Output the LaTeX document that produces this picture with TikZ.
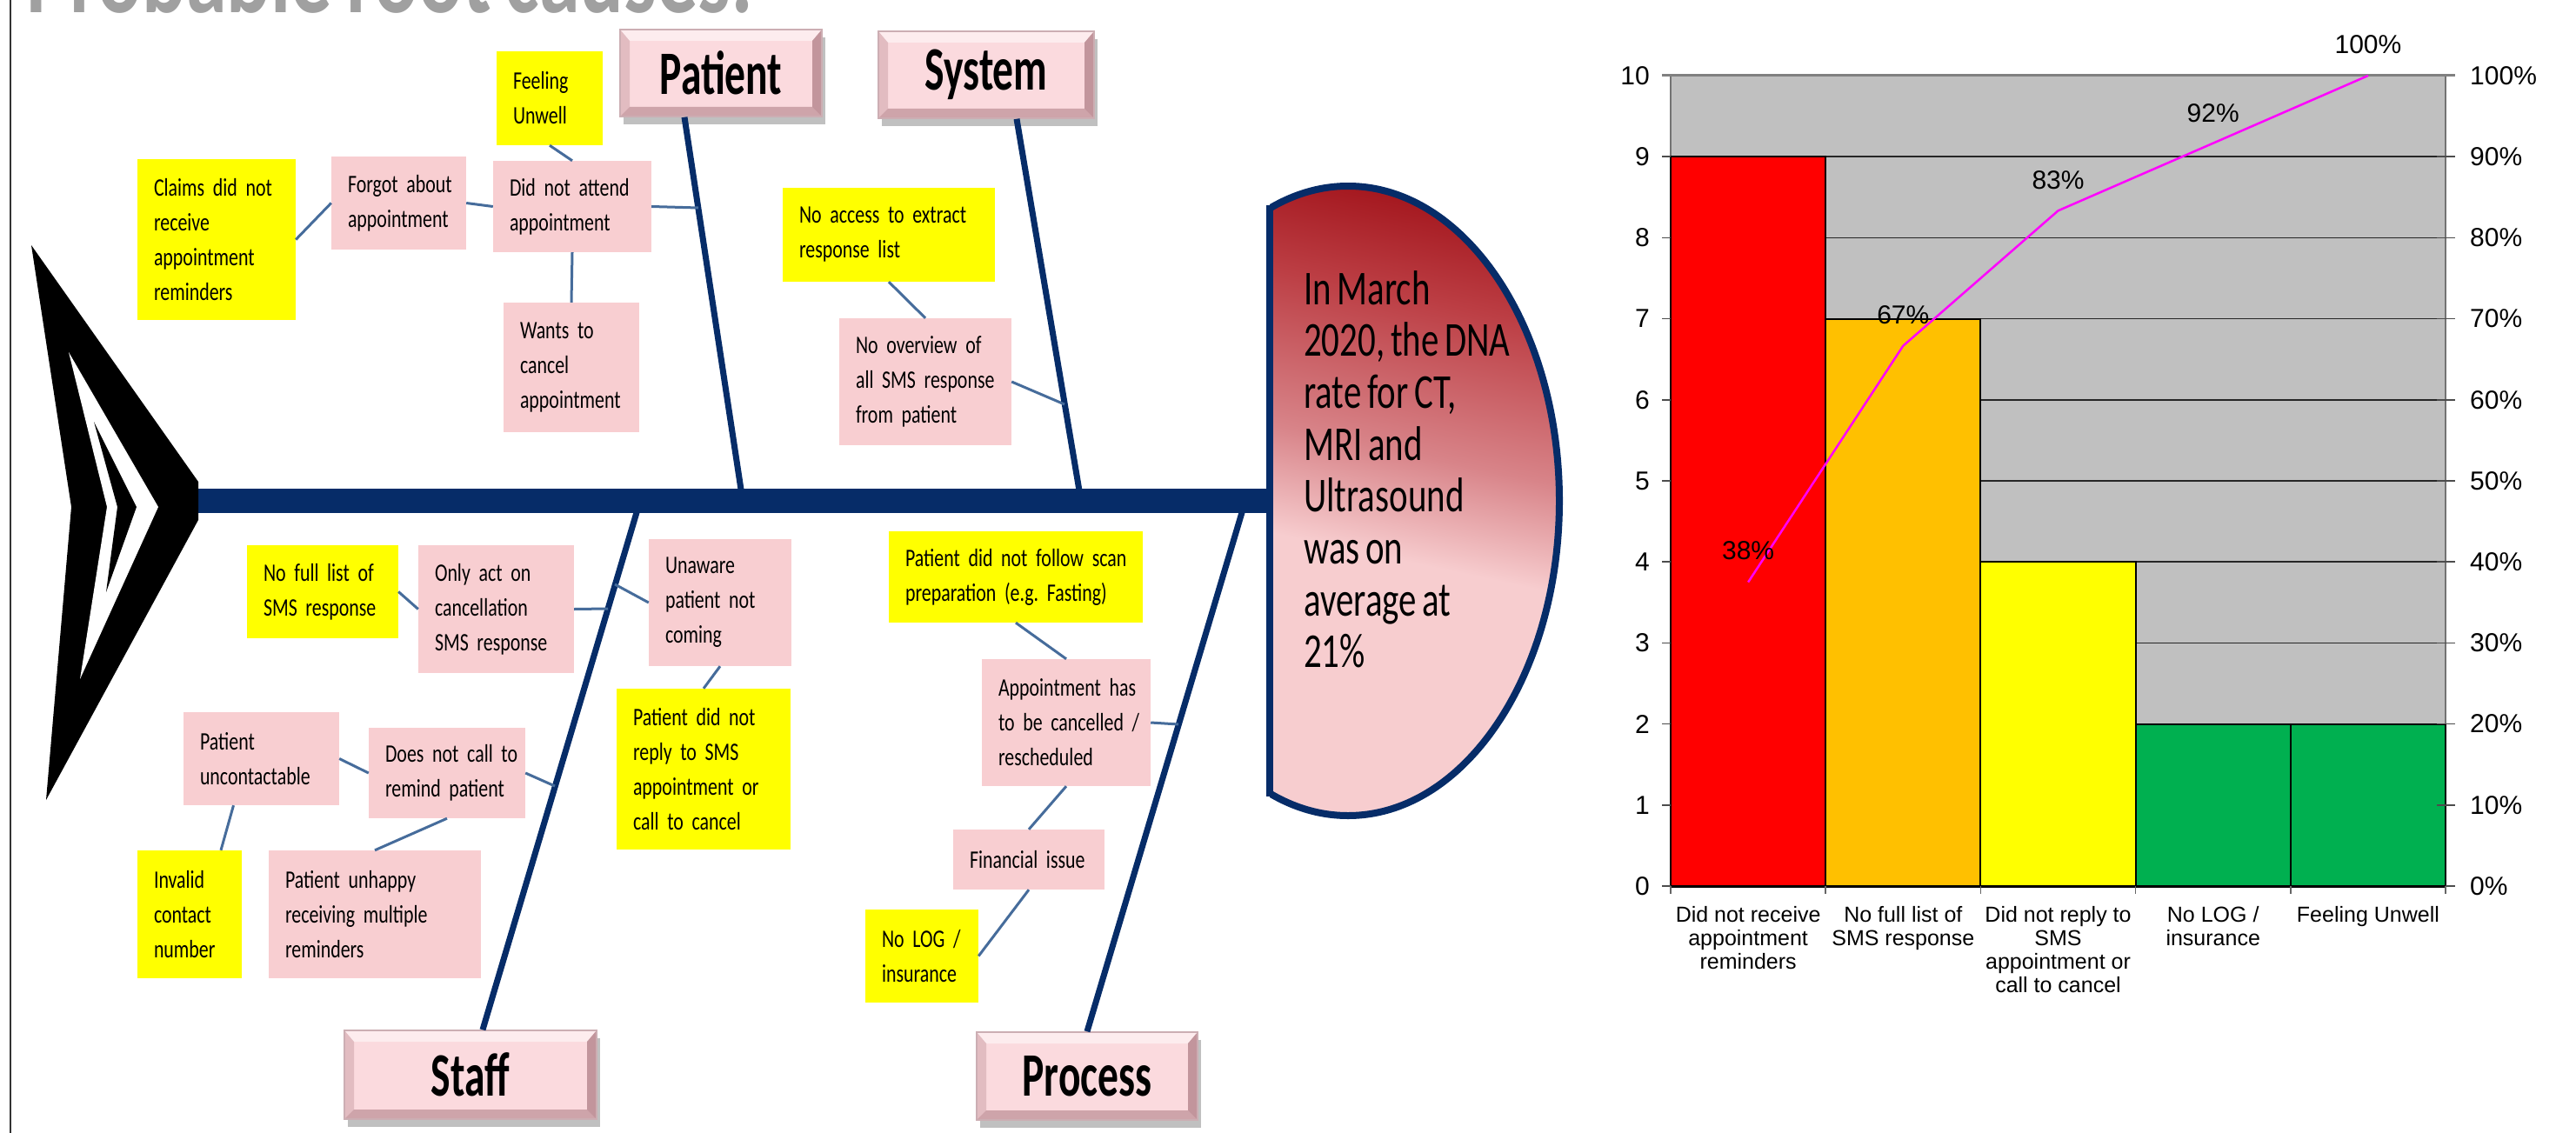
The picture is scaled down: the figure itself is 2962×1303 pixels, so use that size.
\documentclass[tikz,border=0pt]{standalone}
\usepackage{fontspec}
\setmainfont{Carlito}
\newfontfamily\fishfont[FakeStretch=0.755,WordSpace=0.755]{Carlito}
\newfontfamily\catfont[FakeStretch=0.67,WordSpace=0.67]{Carlito}
\newfontfamily\headfont[FakeStretch=0.73,WordSpace=0.73]{Carlito}
\newfontfamily\chartfont{Liberation Sans}
\usetikzlibrary{shadows}
\hyphenpenalty=10000
\exhyphenpenalty=10000
\definecolor{navy}{RGB}{6,44,104}
\definecolor{connblue}{RGB}{70,108,155}
\definecolor{boxpink}{RGB}{248,206,209}
\definecolor{boxyellow}{RGB}{255,255,0}
\definecolor{catpink}{RGB}{251,218,222}
\definecolor{catdark}{RGB}{170,120,128}
\definecolor{headred}{RGB}{165,25,32}
\definecolor{headdeep}{RGB}{188,62,68}
\definecolor{headmid}{RGB}{216,132,137}
\definecolor{headpink}{RGB}{247,205,207}
\definecolor{plotgray}{RGB}{192,192,192}
\definecolor{barred}{RGB}{255,0,0}
\definecolor{barorange}{RGB}{255,192,0}
\definecolor{baryellow}{RGB}{255,255,0}
\definecolor{bargreen}{RGB}{0,176,80}
\definecolor{paretomag}{RGB}{255,0,255}
\definecolor{titlegray}{RGB}{160,160,160}
\pgfdeclareverticalshading{headshade}{100bp}{color(0bp)=(headpink); color(25bp)=(headpink); color(46bp)=(headpink); color(55bp)=(headmid); color(68bp)=(headdeep); color(76bp)=(headred); color(100bp)=(headred)}
\begin{document}
\begin{tikzpicture}[x=1pt,y=-1pt,
  fishtext/.style={font=\fishfont\fontsize{29}{40}\selectfont, align=left, inner sep=0pt, text=black},
  bsize/.style n args={3}{minimum width=#1pt, minimum height=#2pt, text width=#3pt},
  ybox/.style={fishtext, rectangle, fill=boxyellow},
  pbox/.style={fishtext, rectangle, fill=boxpink},
  conn/.style={draw=connblue, line width=3pt},
  bone/.style={draw=navy, line width=7pt},
  catbox/.style={rectangle, fill=catpink, draw=catdark!60, line width=1.5pt, inner sep=0pt,
    font=\catfont\bfseries\fontsize{71}{71}\selectfont,
    drop shadow={shadow xshift=4pt, shadow yshift=-9pt, fill=black!70, opacity=0.35},
    path picture={
      \fill[white, opacity=0.5] (path picture bounding box.north west) -- (path picture bounding box.north east) -- ([xshift=-11pt,yshift=-13pt]path picture bounding box.north east) -- ([xshift=11pt,yshift=-13pt]path picture bounding box.north west) -- cycle;
      \fill[catdark, opacity=0.55] (path picture bounding box.south west) -- (path picture bounding box.south east) -- ([xshift=-11pt,yshift=11pt]path picture bounding box.south east) -- ([xshift=11pt,yshift=11pt]path picture bounding box.south west) -- cycle;
      \fill[catdark, opacity=0.3] (path picture bounding box.north west) -- ([xshift=11pt,yshift=-13pt]path picture bounding box.north west) -- ([xshift=11pt,yshift=11pt]path picture bounding box.south west) -- (path picture bounding box.south west) -- cycle;
      \fill[catdark, opacity=0.7] (path picture bounding box.north east) -- ([xshift=-11pt,yshift=-13pt]path picture bounding box.north east) -- ([xshift=-11pt,yshift=11pt]path picture bounding box.south east) -- (path picture bounding box.south east) -- cycle;
    }},
  axlab/.style={font=\chartfont\fontsize{30}{34}\selectfont, inner sep=0pt},
  catlab/.style={font=\chartfont\fontsize{25}{27}\selectfont, align=center, inner sep=0pt, anchor=north},
  bar/.style={draw=black, line width=2pt},
  gridln/.style={draw=black!85, line width=1.5pt}
]
\useasboundingbox (0,0) rectangle (2962,1303);
\clip (0,0) rectangle (2962,1303);
\fill[white] (0,0) rectangle (2962,1303);

% title (cut off at the top)
\node[anchor=base west, inner sep=0pt, text=titlegray, font=\fishfont\bfseries\fontsize{125}{125}\selectfont] (title) at (30,15) {Probable root causes:};

% left border
\draw[black!80, line width=2.5pt] (12,0) -- (12,1303);

% spine
\coordinate (tail) at (226,576);
\coordinate (headw) at (1460,576);
\draw[navy, line width=28pt] (tail) -- (headw);

% category boxes
\node[catbox, minimum width=232pt, minimum height=100pt] (patient) at (829,84) {Patient};
\node[catbox, minimum width=248pt, minimum height=100pt] (system) at (1134,86) {System};
\node[catbox, minimum width=290pt, minimum height=102pt] (staff) at (541,1236) {Staff};
\node[catbox, minimum width=254pt, minimum height=101pt] (process) at (1250,1237.5) {Process};

% bones
\coordinate (pj) at (854,576);
\coordinate (sj) at (1243,576);
\coordinate (stj) at (736,576);
\coordinate (prj) at (1432,576);
\draw[bone] ([xshift=-42pt]patient.south) -- (pj);
\draw[bone] ([xshift=35pt]system.south) -- (sj);
\draw[bone] (stj) -- ([xshift=14pt]staff.north);
\draw[bone] (prj) -- (process.north);

% head
\begin{scope}
\clip (1460,150) rectangle (1850,1000);
\shade[shading=headshade, shading angle=-12] (1550,576) ellipse [x radius=243, y radius=362];
\draw[navy, line width=8pt] (1550,576) ellipse [x radius=243, y radius=362];
\end{scope}
\draw[navy, line width=8pt] (1460,236) -- (1460,916);
\node[anchor=north west, align=left, inner sep=0pt, font=\headfont\fontsize{56}{59.7}\selectfont] (headtext) at (1499,311) {In~March\\2020,~the~DNA\\rate~for~CT,\\MRI~and\\Ultrasound\\was~on\\average~at\\21\%};

% tail chevron
\fill[black] (36,282) -- (228,554) -- (228,598) -- (53,920) -- (82,583) -- cycle;
\fill[white] (79,405) -- (182,583) -- (92,781) -- (123,583) -- cycle;
\fill[black] (108,485) -- (157,583) -- (122,681) -- (135,583) -- cycle;

% cause boxes
\node[ybox, bsize={122}{108}{84}] (feel) at (632,113) {Feeling\\Unwell};
\node[ybox, bsize={182}{185}{144}] (claims) at (249,275.5) {Claims~did~not\\receive\\appointment\\reminders};
\node[ybox, bsize={244}{108}{206}] (access) at (1022,270) {No~access~to~extract\\response~list};
\node[ybox, bsize={174}{107}{136}] (nofull) at (371,680.5) {No~full~list~of\\SMS~response};
\node[ybox, bsize={200}{185}{162}] (reply) at (809,884.5) {Patient~did~not\\reply~to~SMS\\appointment~or\\call~to~cancel};
\node[ybox, bsize={292}{105}{254}] (follow) at (1168,663.5) {Patient~did~not~follow~scan\\preparation~(e.g.~Fasting)};
\node[ybox, bsize={130}{107}{92}] (nolog) at (1060,1099.5) {No~LOG~/\\insurance};
\node[ybox, bsize={120}{147}{82}] (invalid) at (218,1051.5) {Invalid\\contact\\number};
\node[pbox, bsize={155}{107}{117}] (forgot) at (458.5,233.5) {Forgot~about\\appointment};
\node[pbox, bsize={182}{105}{144}] (dna) at (658,237.5) {Did~not~attend\\appointment};
\node[pbox, bsize={156}{149}{118}] (wants) at (657,422.5) {Wants~to\\cancel\\appointment};
\node[pbox, bsize={198}{146}{160}] (overview) at (1064,439) {No~overview~of\\all~SMS~response\\from~patient};
\node[pbox, bsize={179}{147}{141}] (onlyact) at (570.5,700.5) {Only~act~on\\cancellation\\SMS~response};
\node[pbox, bsize={164}{146}{126}] (unaware) at (828,693) {Unaware\\patient~not\\coming};
\node[pbox, bsize={194}{146}{156}] (appt) at (1226,831) {Appointment~has\\to~be~cancelled~/\\rescheduled};
\node[pbox, bsize={174}{69}{136}] (fin) at (1183,988.5) {Financial~issue};
\node[pbox, bsize={179}{107}{141}] (uncont) at (300.5,872.5) {Patient\\uncontactable};
\node[pbox, bsize={180}{104}{142}] (doesnot) at (514,889) {Does~not~call~to\\remind~patient};
\node[pbox, bsize={244}{147}{206}] (unhappy) at (431,1051.5) {Patient~unhappy\\receiving~multiple\\reminders};

% connectors
\coordinate (pb1) at (803,239);
\coordinate (sb1) at (1224,465);
\coordinate (stb1) at (699,700);
\coordinate (stb2) at (707,672);
\coordinate (stb3) at (638,904);
\coordinate (prb1) at (1355,833);
\draw[conn] (feel.south) -- (dna.north);
\draw[conn] (claims.east) -- (forgot.west);
\draw[conn] (forgot.east) -- (dna.west);
\draw[conn] (dna.east) -- (pb1);
\draw[conn] (dna.south) -- (wants.north);
\draw[conn] (access.south) -- (overview.north);
\draw[conn] (overview.east) -- (sb1);
\draw[conn] (nofull.east) -- (onlyact.west);
\draw[conn] (onlyact.east) -- (stb1);
\draw[conn] (unaware.west) -- (stb2);
\draw[conn] (unaware.south) -- (reply.north);
\draw[conn] (uncont.east) -- (doesnot.west);
\draw[conn] (doesnot.east) -- (stb3);
\draw[conn] ([xshift=-32pt]uncont.south) -- ([xshift=36pt]invalid.north);
\draw[conn] (doesnot.south) -- (unhappy.north);
\draw[conn] (follow.south) -- (appt.north);
\draw[conn] (appt.east) -- (prb1);
\draw[conn] (appt.south) -- (fin.north);
\draw[conn] (fin.south) -- (nolog.east);

% ---------- Pareto chart ----------
\fill[plotgray] (1921,87) rectangle (2812,1019);
\foreach \v in {1,...,9} \draw[gridln] (1921,{1019-93.2*\v}) -- (2812,{1019-93.2*\v});
\draw[black!55, line width=1.5pt] (1921,87) -- (1921,1019);
\draw[black!55, line width=1.5pt] (2812,87) -- (2812,1019);
\draw[bar, fill=barred] (1921,1019) rectangle (2099.2,180.2);
\draw[bar, fill=barorange] (2099.2,1019) rectangle (2277.4,366.6);
\draw[bar, fill=baryellow] (2277.4,1019) rectangle (2455.6,646.2);
\draw[bar, fill=bargreen] (2455.6,1019) rectangle (2633.8,832.6);
\draw[bar, fill=bargreen] (2633.8,1019) rectangle (2812,832.6);
\draw[black!50, line width=3pt] (1911,87) -- (2823,87);
\foreach \v in {0,...,9} {
  \draw[black!70, line width=1.5pt] (1911,{1019-93.2*\v}) -- (1921,{1019-93.2*\v});
  \draw[black!70, line width=1.5pt] (2802,{1019-93.2*\v}) -- (2823,{1019-93.2*\v});
}
\draw[black, line width=3pt] (1921,1019) -- (2812,1019);
\foreach \x in {1921,2099.2,2277.4,2455.6,2633.8,2812} \draw[black!60, line width=1.5pt] (\x,1019) -- (\x,1028);
\foreach \v in {0,...,10} \node[axlab, anchor=east] (yl\v) at (1897,{1019-93.2*\v}) {\v};
\foreach \v [evaluate=\v as \p using int(10*\v)] in {0,...,10} \node[axlab, anchor=west] (yr\v) at (2840,{1019-93.2*\v}) {\p\%};
\coordinate (c1) at (2010.1,669.5);
\coordinate (c2) at (2188.3,397.7);
\coordinate (c3) at (2366.5,242.3);
\coordinate (c4) at (2544.7,164.7);
\coordinate (c5) at (2722.9,87);
\draw[paretomag, line width=2.5pt] (c1) -- (c2) -- (c3) -- (c4) -- (c5);
\node[axlab] (l1) at ([yshift=36pt]c1) {38\%};
\node[axlab] (l2) at ([yshift=36pt]c2) {67\%};
\node[axlab] (l3) at ([yshift=35pt]c3) {83\%};
\node[axlab] (l4) at ([yshift=35pt]c4) {92\%};
\node[axlab] (l5) at ([yshift=36pt]c5) {100\%};
\node[catlab] (x1) at (2010.1,1042) {Did not receive\\appointment\\reminders};
\node[catlab] (x2) at (2188.3,1042) {No full list of\\SMS response};
\node[catlab] (x3) at (2366.5,1042) {Did not reply to\\SMS\\appointment or\\call to cancel};
\node[catlab] (x4) at (2544.7,1042) {No LOG /\\insurance};
\node[catlab] (x5) at (2722.9,1042) {Feeling Unwell};
\end{tikzpicture}
\end{document}
